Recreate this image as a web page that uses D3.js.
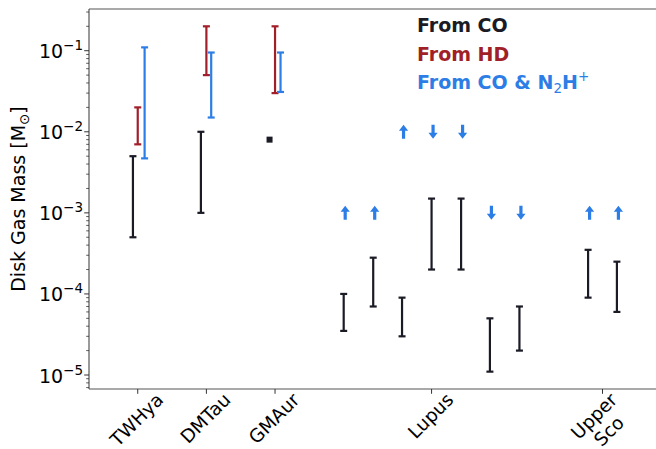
<!DOCTYPE html>
<html>
<head>
<meta charset="utf-8">
<script src="https://cdn.jsdelivr.net/npm/d3@7"></script>
<style>
  body { margin: 0; background: #fff; }
  svg { display: block; font-family: "DejaVu Sans", sans-serif; }
</style>
</head>
<body>
<svg id="chart"></svg>
<script>
// category ticks on the x axis
const tickNames = ["TWHya", "DMTau", "GMAur", "Lupus", "Upper\nSco"]
const tickPos = [1, 2, 3, 5.28, 7.77]

// From CO (black) ranges
const coX = [0.93, 1.92, 4.0, 4.43, 4.85, 5.28, 5.71, 6.13, 6.56, 7.56, 7.98]
const coLow = [5e-4, 1e-3, 3.5e-5, 7e-5, 3e-5, 2e-4, 2e-4, 1.1e-5, 2e-5, 9e-5, 6e-5]
const coHigh = [5e-3, 1e-2, 1e-4, 2.8e-4, 9e-5, 1.5e-3, 1.5e-3, 5e-5, 7e-5, 3.5e-4, 2.5e-4]

// GMAur single CO value
const coPointX = [2.92]
const coPointY = [8e-3]

// From HD (red) ranges
const hdX = [1, 2, 3]
const hdLow = [7e-3, 0.05, 0.03]
const hdHigh = [0.02, 0.2, 0.2]

// From CO & N2H+ (blue) ranges
const nX = [1.1, 2.07, 3.08]
const nLow = [4.7e-3, 0.015, 0.031]
const nHigh = [0.11, 0.095, 0.095]

// N2H+ limits drawn as arrows
const arrX = [4.0, 4.43, 4.85, 5.28, 5.71, 6.13, 6.56, 7.56, 7.98]
const arrY = [1e-3, 1e-3, 1e-2, 1e-2, 1e-2, 1e-3, 1e-3, 1e-3, 1e-3]
const arrDir = ["up", "up", "up", "down", "down", "down", "down", "up", "up"]

const width = 656, height = 449
const mLeft = 89, mTop = 9, mBottom = 389, mRight = 700

const BLACK = "#1b1b26", RED = "#a11f29", BLUE = "#2d7de6"

const svg = d3.select("#chart").attr("width", width).attr("height", height)

const x = d3.scaleLinear().domain([0.29, 0.29 + (mRight - mLeft) / 68.65]).range([mLeft, mRight])
const y = d3.scaleLog().domain([6.72e-6, 0.327]).range([mBottom, mTop])

// spines: left, top, bottom (right one is outside the picture)
const spine = "#555"
svg.append("line").attr("x1", mLeft).attr("x2", mLeft).attr("y1", mTop).attr("y2", mBottom)
    .attr("stroke", spine).attr("stroke-width", 1.2)
svg.append("line").attr("x1", mLeft).attr("x2", mRight).attr("y1", mTop).attr("y2", mTop)
    .attr("stroke", spine).attr("stroke-width", 1.2)
svg.append("line").attr("x1", mLeft).attr("x2", mRight).attr("y1", mBottom).attr("y2", mBottom)
    .attr("stroke", spine).attr("stroke-width", 1.2)

// y ticks, major and minor
const majors = [1e-5, 1e-4, 1e-3, 1e-2, 1e-1]
const minors = []
for (let e = -6; e <= 0; e++) {
    for (let m = 2; m <= 9; m++) {
        const v = m * Math.pow(10, e)
        if (v >= y.domain()[0] && v <= y.domain()[1]) minors.push(v)
    }
}
svg.selectAll(".minor").data(minors).join("line")
    .attr("x1", mLeft - 2.8).attr("x2", mLeft)
    .attr("y1", d => y(d)).attr("y2", d => y(d))
    .attr("stroke", "#333").attr("stroke-width", 0.8)
svg.selectAll(".major").data(majors).join("line")
    .attr("x1", mLeft - 4.8).attr("x2", mLeft)
    .attr("y1", d => y(d)).attr("y2", d => y(d))
    .attr("stroke", "#333").attr("stroke-width", 1)

const yl = svg.selectAll(".ylab").data(majors).join("text")
    .attr("x", 83).attr("y", d => y(d) + 7.5)
    .attr("text-anchor", "end").attr("font-size", 19).attr("fill", "#000")
yl.append("tspan").text("10")
yl.append("tspan").attr("dy", -8).attr("font-size", 13.5)
    .text(d => "\u2212" + Math.round(-Math.log10(d)))

svg.append("text")
    .attr("transform", `translate(25,${(mTop + mBottom) / 2}) rotate(-90)`)
    .attr("text-anchor", "middle").attr("font-size", 19).attr("fill", "#000")
    .call(t => {
        t.append("tspan").text("Disk Gas Mass [M")
        t.append("tspan").attr("font-size", 13.5).attr("dy", 4).text("\u2299")
        t.append("tspan").attr("dy", -4).text("]")
    })

// x ticks and rotated labels
svg.selectAll(".xtick").data(tickPos).join("line")
    .attr("x1", d => x(d)).attr("x2", d => x(d))
    .attr("y1", mBottom).attr("y2", mBottom + 4.8)
    .attr("stroke", "#333").attr("stroke-width", 1)

tickNames.forEach((name, i) => {
    const lines = name.split("\n")
    const lh = 21
    const g = svg.append("g")
    const t = g.append("text").attr("font-size", 18.5).attr("text-anchor", "middle").attr("fill", "#000")
    lines.forEach((ln, j) => {
        t.append("tspan").attr("x", 0)
            .attr("y", (j - (lines.length - 1) / 2) * lh + 6.5)
            .text(ln)
    })
    const w = d3.max(t.selectAll("tspan").nodes(), n => n.getComputedTextLength())
    const h = lines.length * lh
    const half = (w + h) / (2 * Math.SQRT2)
    g.attr("transform", `translate(${x(tickPos[i]) - 1},${mBottom + half}) rotate(-45)`)
})

// error bars
const drawBars = (xs, lo, hi, color) => {
    const g = svg.append("g").attr("stroke", color).attr("stroke-width", 2.2)
    xs.forEach((xv, i) => {
        const px = x(xv)
        g.append("line").attr("x1", px).attr("x2", px).attr("y1", y(lo[i])).attr("y2", y(hi[i]))
        g.append("line").attr("x1", px - 3.5).attr("x2", px + 3.5).attr("y1", y(lo[i])).attr("y2", y(lo[i]))
        g.append("line").attr("x1", px - 3.5).attr("x2", px + 3.5).attr("y1", y(hi[i])).attr("y2", y(hi[i]))
    })
}
drawBars(coX, coLow, coHigh, BLACK)
drawBars(hdX, hdLow, hdHigh, RED)
drawBars(nX, nLow, nHigh, BLUE)

svg.selectAll(".pt").data(coPointX).join("rect")
    .attr("x", d => x(d) - 3).attr("y", (d, i) => y(coPointY[i]) - 3)
    .attr("width", 6).attr("height", 6).attr("fill", BLACK)

// arrows, shaft then head, centred on the point
const arrowPath = dir => {
    const s = dir === "up" ? -1 : 1
    return `M-1.6,${-7 * s} L1.6,${-7 * s} L1.6,${1 * s} L4.6,${1 * s} L0,${7 * s} L-4.6,${1 * s} L-1.6,${1 * s} Z`
}
svg.selectAll(".arr").data(arrX).join("path")
    .attr("transform", (d, i) => `translate(${x(d) + 1.5},${y(arrY[i])})`)
    .attr("d", (d, i) => arrowPath(arrDir[i]))
    .attr("fill", BLUE)

// legend text
const leg = svg.append("g").attr("font-size", 19).attr("font-weight", "bold")
leg.append("text").attr("x", 417).attr("y", 32).attr("fill", BLACK).text("From CO")
leg.append("text").attr("x", 417).attr("y", 60.5).attr("fill", RED).text("From HD")
leg.append("text").attr("x", 417).attr("y", 88.5).attr("fill", BLUE)
    .call(t => {
        t.append("tspan").text("From CO & N")
        t.append("tspan").attr("font-size", 13.5).attr("font-weight", "normal").attr("dy", 4).text("2")
        t.append("tspan").attr("dy", -4).text("H")
        t.append("tspan").attr("font-size", 13.5).attr("font-weight", "normal").attr("dy", -8).text("+")
    })
</script>
</body>
</html>
